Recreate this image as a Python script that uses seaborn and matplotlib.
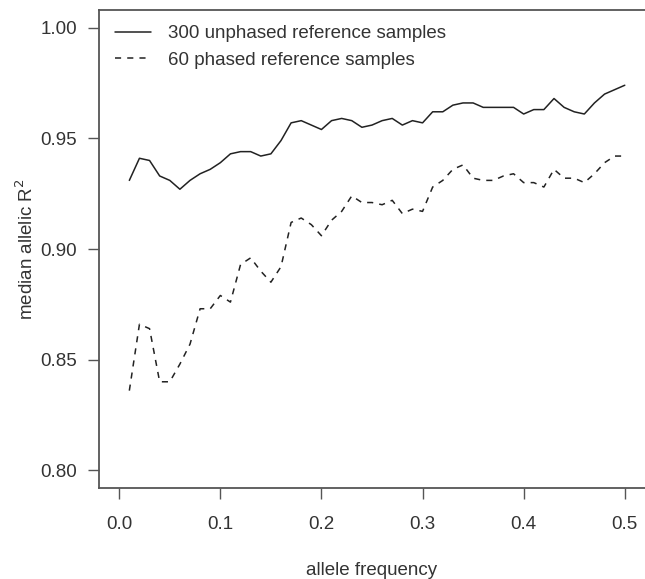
import numpy as np
import pandas as pd
import matplotlib
matplotlib.use("Agg")
import matplotlib.pyplot as plt
import seaborn as sns

allele_freq = [0.01, 0.02, 0.03, 0.04, 0.05, 0.06, 0.07, 0.08, 0.09, 0.10,
               0.11, 0.12, 0.13, 0.14, 0.15, 0.16, 0.17, 0.18, 0.19, 0.20,
               0.21, 0.22, 0.23, 0.24, 0.25, 0.26, 0.27, 0.28, 0.29, 0.30,
               0.31, 0.32, 0.33, 0.34, 0.35, 0.36, 0.37, 0.38, 0.39, 0.40,
               0.41, 0.42, 0.43, 0.44, 0.45, 0.46, 0.47, 0.48, 0.49, 0.50]

unphased_300 = [0.931, 0.941, 0.940, 0.933, 0.931, 0.927, 0.931, 0.934, 0.936, 0.939,
                0.943, 0.944, 0.944, 0.942, 0.943, 0.949, 0.957, 0.958, 0.956, 0.954,
                0.958, 0.959, 0.958, 0.955, 0.956, 0.958, 0.959, 0.956, 0.958, 0.957,
                0.962, 0.962, 0.965, 0.966, 0.966, 0.964, 0.964, 0.964, 0.964, 0.961,
                0.963, 0.963, 0.968, 0.964, 0.962, 0.961, 0.966, 0.970, 0.972, 0.974]

phased_60 = [0.836, 0.866, 0.864, 0.840, 0.840, 0.848, 0.857, 0.873, 0.873, 0.879,
             0.876, 0.893, 0.896, 0.890, 0.885, 0.892, 0.912, 0.914, 0.911, 0.906,
             0.913, 0.917, 0.924, 0.921, 0.921, 0.920, 0.922, 0.916, 0.918, 0.917,
             0.928, 0.931, 0.936, 0.938, 0.932, 0.931, 0.931, 0.933, 0.934, 0.930,
             0.930, 0.928, 0.936, 0.932, 0.932, 0.930, 0.934, 0.939, 0.942, 0.942]

series_names = ["300 unphased reference samples", "60 phased reference samples"]
x_ticks = [0.0, 0.1, 0.2, 0.3, 0.4, 0.5]
x_tick_labels = ["0.0", "0.1", "0.2", "0.3", "0.4", "0.5"]
y_ticks = [0.80, 0.85, 0.90, 0.95, 1.00]
y_tick_labels = ["0.80", "0.85", "0.90", "0.95", "1.00"]

df = pd.DataFrame({
    "freq": allele_freq * 2,
    "r2": unphased_300 + phased_60,
    "series": [series_names[0]] * len(allele_freq) + [series_names[1]] * len(allele_freq),
})

sns.set_theme(style="white")
plt.rcParams["font.family"] = ["Liberation Sans", "DejaVu Sans"]

W, H = 645, 579
fig = plt.figure(figsize=(W / 100, H / 100), dpi=100)
ax = fig.add_axes([99 / W, 1 - 488 / H, (645 - 99) / W, (488 - 10) / H])

line_col = "#222222"
spine_col = "#555555"
text_col = "#333333"
fs = 13.5

sns.lineplot(data=df, x="freq", y="r2", style="series", hue="series",
             palette={series_names[0]: line_col, series_names[1]: line_col},
             dashes={series_names[0]: "", series_names[1]: (4, 4)},
             linewidth=1.1, ax=ax, legend=True)

ax.set_xlim(-0.02, 0.52)
ax.set_ylim(0.792, 1.008)
ax.set_xticks(x_ticks)
ax.set_xticklabels(x_tick_labels)
ax.set_yticks(y_ticks)
ax.set_yticklabels(y_tick_labels)
ax.tick_params(axis="both", direction="out", length=8, width=1.0, color=spine_col,
               labelsize=fs, labelcolor=text_col)
ax.tick_params(axis="x", pad=12)
ax.tick_params(axis="y", pad=8)
ax.tick_params(bottom=True, left=True)

for side in ["left", "top", "bottom"]:
    ax.spines[side].set_visible(True)
    ax.spines[side].set_color(spine_col)
    ax.spines[side].set_linewidth(1.3)
ax.spines["right"].set_visible(False)

ax.set_xlabel("allele frequency", fontsize=fs, color=text_col, labelpad=21)
ax.set_ylabel("median allelic R$^2$", fontsize=fs, color=text_col, va="center")
ax.yaxis.set_label_coords((26 - 99) / (645 - 99), 0.5)

handles, labels = ax.get_legend_handles_labels()
leg = ax.legend(handles, labels, loc="upper left",
                bbox_to_anchor=(115 / W, 1 - 25 / H), bbox_transform=fig.transFigure,
                frameon=False, fontsize=fs, handlelength=1.9, handletextpad=0.9,
                labelspacing=0.5, borderpad=0, borderaxespad=0)
for t in leg.get_texts():
    t.set_color(text_col)

fig.savefig("out.png", dpi=100)
